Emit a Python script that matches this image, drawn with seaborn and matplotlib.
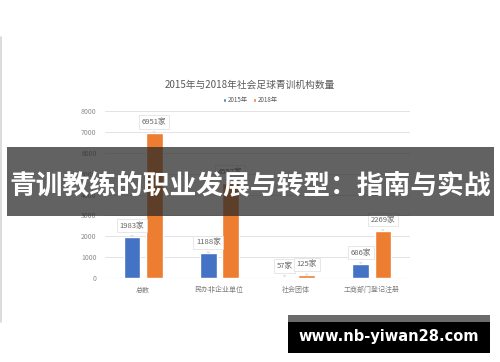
import pandas as pd
import seaborn as sns
import matplotlib.pyplot as plt
from matplotlib.patches import Rectangle, Patch

# data
categories = ["总数", "民办非企业单位", "社会团体", "工商部门登记注册"]
years = ["2015年", "2018年"]
values_2015 = [1983, 1188, 57, 686]
values_2018 = [6951, 4557, 125, 2269]
y_ticks = [0, 1000, 2000, 3000, 4000, 5000, 6000, 7000, 8000]
colors = ["#4472C4", "#ED7D31"]

title = "2015年与2018年社会足球青训机构数量"
banner = "青训教练的职业发展与转型：指南与实战"
site = "www.nb-yiwan28.com"

sns.set_theme(style="white")
plt.rcParams['font.family'] = ['Noto Sans CJK SC', 'DejaVu Sans']

df = pd.DataFrame({
    "类别": categories * 2,
    "年份": [years[0]] * 4 + [years[1]] * 4,
    "数量": values_2015 + values_2018,
})

fig = plt.figure(figsize=(5, 3.62), dpi=100)
fig.patch.set_facecolor("white")
ax = fig.add_axes([0.21, 0.232, 0.61, 0.461])

sns.barplot(data=df, x="类别", y="数量", hue="年份", palette=colors,
            width=0.58, gap=0.24, legend=False, ax=ax, saturation=1)

ax.set_ylim(0, 8000)
ax.set_xlim(-0.5, 3.5)
ax.set_yticks(y_ticks)
ax.yaxis.grid(True, color="#e3e3e3", linewidth=0.7)
ax.set_axisbelow(True)
for s in ax.spines.values():
    s.set_visible(False)
ax.axhline(0, color="#d9d9d9", linewidth=0.8, zorder=0)
ax.set_xlabel("")
ax.set_ylabel("")
ax.tick_params(axis="y", labelsize=5, labelcolor="#8c8c8c", length=0, pad=6)
ax.tick_params(axis="x", labelsize=5, labelcolor="#7f7f7f", length=0, pad=6)

# callout labels
for cont in ax.containers:
    for bar in cont:
        h = bar.get_height()
        cx = bar.get_x() + bar.get_width() / 2
        ax.annotate(f"{int(h)}家", xy=(cx, h), xytext=(0, 5),
                    textcoords="offset points", ha="center", va="bottom",
                    fontsize=5.5, color="#666666",
                    bbox=dict(boxstyle="square,pad=0.35", fc="white",
                              ec="#dddddd", lw=0.5),
                    arrowprops=dict(arrowstyle="wedge,tail_width=0.35",
                                    fc="white", ec="#dddddd", lw=0.5))

fig.text(0.5, 0.765, title, ha="center", va="center", fontsize=7, color="#595959")
handles = [Patch(facecolor=c, label=y) for c, y in zip(colors, years)]
fig.legend(handles=handles, loc="center", bbox_to_anchor=(0.5, 0.723), ncol=2,
           frameon=False, fontsize=4.5, handlelength=0.6, handleheight=0.6,
           handletextpad=0.2, columnspacing=0.8, labelcolor="#595959")

# thin grey line at the left edge
fig.add_artist(plt.Line2D([0.002, 0.002], [1 - 322 / 362, 1 - 37 / 362],
                          color="#d5d5d5", lw=1.2, transform=fig.transFigure))

# title banner overlay
fig.add_artist(Rectangle((7 / 500, 1 - 216 / 362), 487 / 500, 69 / 362,
                         transform=fig.transFigure, fc="#262626", alpha=0.72,
                         ec="none", zorder=10))
fig.text(0.5, 1 - 185 / 362, banner, ha="center", va="center", fontsize=19.3,
         color="white", fontweight="bold", zorder=11)

# site banner
fig.add_artist(Rectangle((288 / 500, 1 - 322 / 362), 202 / 500, 7 / 362,
                         transform=fig.transFigure, fc="#6b6b6b", ec="none", zorder=10))
fig.add_artist(Rectangle((288 / 500, 1 - 353 / 362), 202 / 500, 31 / 362,
                         transform=fig.transFigure, fc="black", ec="none", zorder=10))
fig.text(389 / 500, 1 - 337 / 362, site, ha="center", va="center", fontsize=10.5,
         color="white", fontweight="bold", family=["DejaVu Sans"], zorder=11)

fig.savefig("out.png", dpi=100)
